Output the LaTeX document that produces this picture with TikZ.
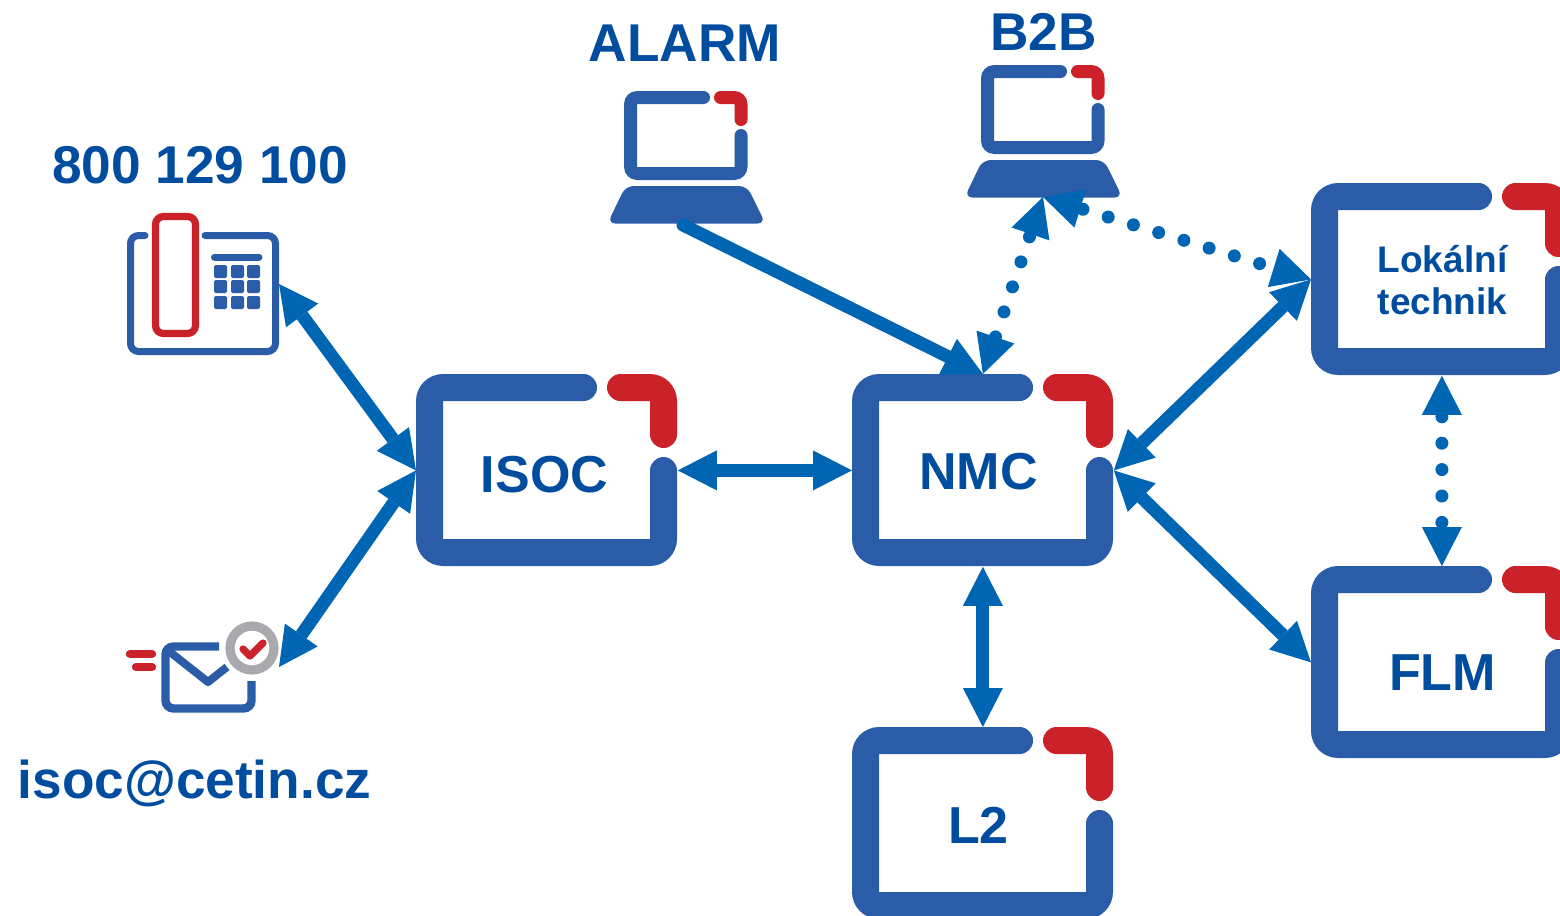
\documentclass[tikz,border=0pt]{standalone}
\usepackage{fontspec}
\setmainfont{Liberation Sans}
\usetikzlibrary{arrows.meta}
\definecolor{frameblue}{HTML}{2B5CA8}
\definecolor{framered}{HTML}{CB2229}
\definecolor{linkblue}{HTML}{0066B3}
\definecolor{textblue}{HTML}{004C9E}
\definecolor{ringgrey}{HTML}{A7A9AC}
\tikzset{
  x=0.5pt,y=-0.5pt,
  bigtext/.style={inner sep=0pt,anchor=base,text=textblue,font=\fontsize{26}{26}\selectfont\bfseries},
  toptext/.style={inner sep=0pt,anchor=base,text=textblue,font=\fontsize{26.6}{26.6}\selectfont\bfseries},
  smalltext/.style={inner sep=0pt,anchor=base,text=textblue,font=\fontsize{18.5}{18.5}\selectfont\bfseries},
  boxarea/.style={inner sep=0pt,minimum width=130.5pt,minimum height=96pt},
  headtip/.tip={Triangle[length=19.5pt,width=20pt,line width=0pt]},
  solidlink/.style={draw=linkblue,fill=none,line width=6.5pt,{headtip}-{headtip}},
  onewaylink/.style={draw=linkblue,line width=6.5pt,line cap=round,-{headtip}},
  dotlink/.style={draw=linkblue,line width=6.5pt,line cap=round,dash pattern=on 0pt off 13.2pt,dash phase=#1,{headtip}-{headtip}},
  phoneline/.style={draw=frameblue,line width=3.5pt,line cap=round,rounded corners=4pt},
  mailline/.style={draw=frameblue,line width=4.2pt,rounded corners=4pt},
  thinred/.style={draw=framered,line width=4.2pt,line cap=round},
  keycap/.style={fill=frameblue,rounded corners=1pt},
}
% width, height, stroke, blue end x, red start x, red end y, blue start y
\newcommand{\framefill}[7]{%
  \pgfmathsetmacro{\fw}{#1}\pgfmathsetmacro{\fh}{#2}\pgfmathsetmacro{\ft}{#3}%
  \pgfmathsetmacro{\fc}{\ft/2}\pgfmathsetmacro{\fk}{0.5523*\fc}%
  \pgfmathsetmacro{\fR}{\ft}\pgfmathsetmacro{\fK}{0.4477*\fR}%
  \pgfmathsetmacro{\fbx}{#4-\fc}\pgfmathsetmacro{\frx}{#5+\fc}%
  \pgfmathsetmacro{\fry}{#6-\fc}\pgfmathsetmacro{\fby}{#7+\fc}%
  \fill[frameblue] (\fR,0) -- (\fbx,0)
    .. controls ({\fbx+\fk},0) and ({\fbx+\fc},{\fc-\fk}) .. ({\fbx+\fc},\fc)
    .. controls ({\fbx+\fc},{\fc+\fk}) and ({\fbx+\fk},\ft) .. (\fbx,\ft)
    -- (\ft,\ft) -- (\ft,{\fh-\ft}) -- ({\fw-\ft},{\fh-\ft}) -- ({\fw-\ft},\fby)
    .. controls ({\fw-\ft},{\fby-\fk}) and ({\fw-\fc-\fk},{\fby-\fc}) .. ({\fw-\fc},{\fby-\fc})
    .. controls ({\fw-\fc+\fk},{\fby-\fc}) and (\fw,{\fby-\fk}) .. (\fw,\fby)
    -- (\fw,{\fh-\fR})
    .. controls (\fw,{\fh-\fK}) and ({\fw-\fK},\fh) .. ({\fw-\fR},\fh)
    -- (\fR,\fh)
    .. controls (\fK,\fh) and (0,{\fh-\fK}) .. (0,{\fh-\fR})
    -- (0,\fR)
    .. controls (0,\fK) and (\fK,0) .. (\fR,0) -- cycle;
  \fill[framered] (\frx,0) -- ({\fw-\fR},0)
    .. controls ({\fw-\fK},0) and (\fw,\fK) .. (\fw,\fR)
    -- (\fw,\fry)
    .. controls (\fw,{\fry+\fk}) and ({\fw-\fc+\fk},{\fry+\fc}) .. ({\fw-\fc},{\fry+\fc})
    .. controls ({\fw-\fc-\fk},{\fry+\fc}) and ({\fw-\ft},{\fry+\fk}) .. ({\fw-\ft},\fry)
    -- ({\fw-\ft},\ft) -- (\frx,\ft)
    .. controls ({\frx-\fk},\ft) and ({\frx-\fc},{\fc+\fk}) .. ({\frx-\fc},\fc)
    .. controls ({\frx-\fc},{\fc-\fk}) and ({\frx-\fk},0) .. (\frx,0) -- cycle;}
\newcommand{\bizbox}[3]{%
  \node[boxarea,anchor=north west] (#1) at (#2,#3) {};
  \begin{scope}[shift={(#2,#3)}]
    \framefill{261}{192}{27}{181}{191}{74}{83}
  \end{scope}}
\newcommand{\laptop}[3]{%
  \node[inner sep=0pt,minimum width=76pt,minimum height=66pt,anchor=north west] (#1) at (#2,#3) {};
  \begin{scope}[shift={(#2,#3)}]
    \begin{scope}[shift={(14,0)}]
      \framefill{123.5}{89}{13}{86}{90}{35}{38}
    \end{scope}
    \fill[frameblue,rounded corners=4pt] (15.6,95) -- (137,95) -- (155.5,132.5) -- (-2.5,132.5) -- cycle;
  \end{scope}}
\begin{document}
\begin{tikzpicture}
\useasboundingbox (0,0) rectangle (1560,916);
% boxes
\bizbox{isoc}{416}{374}
\bizbox{nmc}{852}{374}
\bizbox{ltwo}{852}{727}
\bizbox{lokal}{1311}{183}
\bizbox{flm}{1311}{566}
% laptops
\laptop{alarmtop}{610}{91}
\laptop{btobtop}{967}{65}
% phone
\draw[phoneline] (145,235.5) -- (130.5,235.5) -- (130.5,351.5) -- (275.5,351.5) -- (275.5,235.5) -- (205,235.5);
\draw[draw=framered,line width=3.6pt,rounded corners=4pt] (155.5,216.5) rectangle (195.5,333.5);
\draw[draw=frameblue,line width=3.5pt,line cap=round] (214.5,257) -- (259,257);
\foreach \kx in {214,231,247}{\foreach \ky in {265,280,296}{\fill[keycap] (\kx,\ky) rectangle ++(13,13);}}
% mail
\draw[mailline] (219,646.5) -- (165.5,646.5) -- (165.5,708.5) -- (251.5,708.5) -- (251.5,681);
\draw[draw=frameblue,line width=4pt,line join=round] (170,652) -- (208,682) -- (227,667);
\draw[thinred] (130,654) -- (152,654);
\draw[thinred] (136,667) -- (152,667);
\draw[draw=ringgrey,line width=4.6pt] (252,648) circle (22);
\draw[draw=framered,line width=3.6pt,line cap=round,line join=round] (243,649) -- (250,656) -- (263,643);
% anchors of the free connectors
\coordinate (phoneport) at (279,284);
\coordinate (mailport) at (279,667);
\coordinate (alarmport) at (683,225);
\coordinate (btobport) at (1043,197);
% labels
\node[toptext] (lphone) at (200,183) {800 129 100};
\node[toptext] (lmail) at (194.5,798) {isoc@cetin.cz};
\node[toptext] (lalarm) at (685,61) {ALARM};
\node[toptext] (lbtob) at (1043.5,50) {B2B};
\node[bigtext] (lisoc) at (544.5,492) {ISOC};
\node[bigtext] (lnmc) at (978.5,489) {NMC};
\node[bigtext] (lltwo) at (978.5,843) {L2};
\node[bigtext] (lflm) at (1442.5,690) {FLM};
\node[smalltext] (llok) at (1442.5,272) {Lokální};
\node[smalltext] (ltech) at (1442.5,314) {technik};
% connectors
\draw[solidlink] (phoneport) -- (isoc.west);
\draw[solidlink] (mailport) -- (isoc.west);
\draw[solidlink] (isoc.east) -- (nmc.west);
\draw[solidlink] (nmc.south) -- (ltwo.north);
\draw[solidlink] (nmc.east) -- (lokal.west);
\draw[solidlink] (nmc.east) -- (flm.west);
\draw[onewaylink] (alarmport) -- (nmc.north);
\draw[dotlink=13.1pt] (nmc.north) -- (btobport);
\draw[dotlink=11.8pt] (btobport) -- (lokal.west);
\draw[dotlink=12.2pt] (lokal.south) -- (flm.north);
\end{tikzpicture}
\end{document}
